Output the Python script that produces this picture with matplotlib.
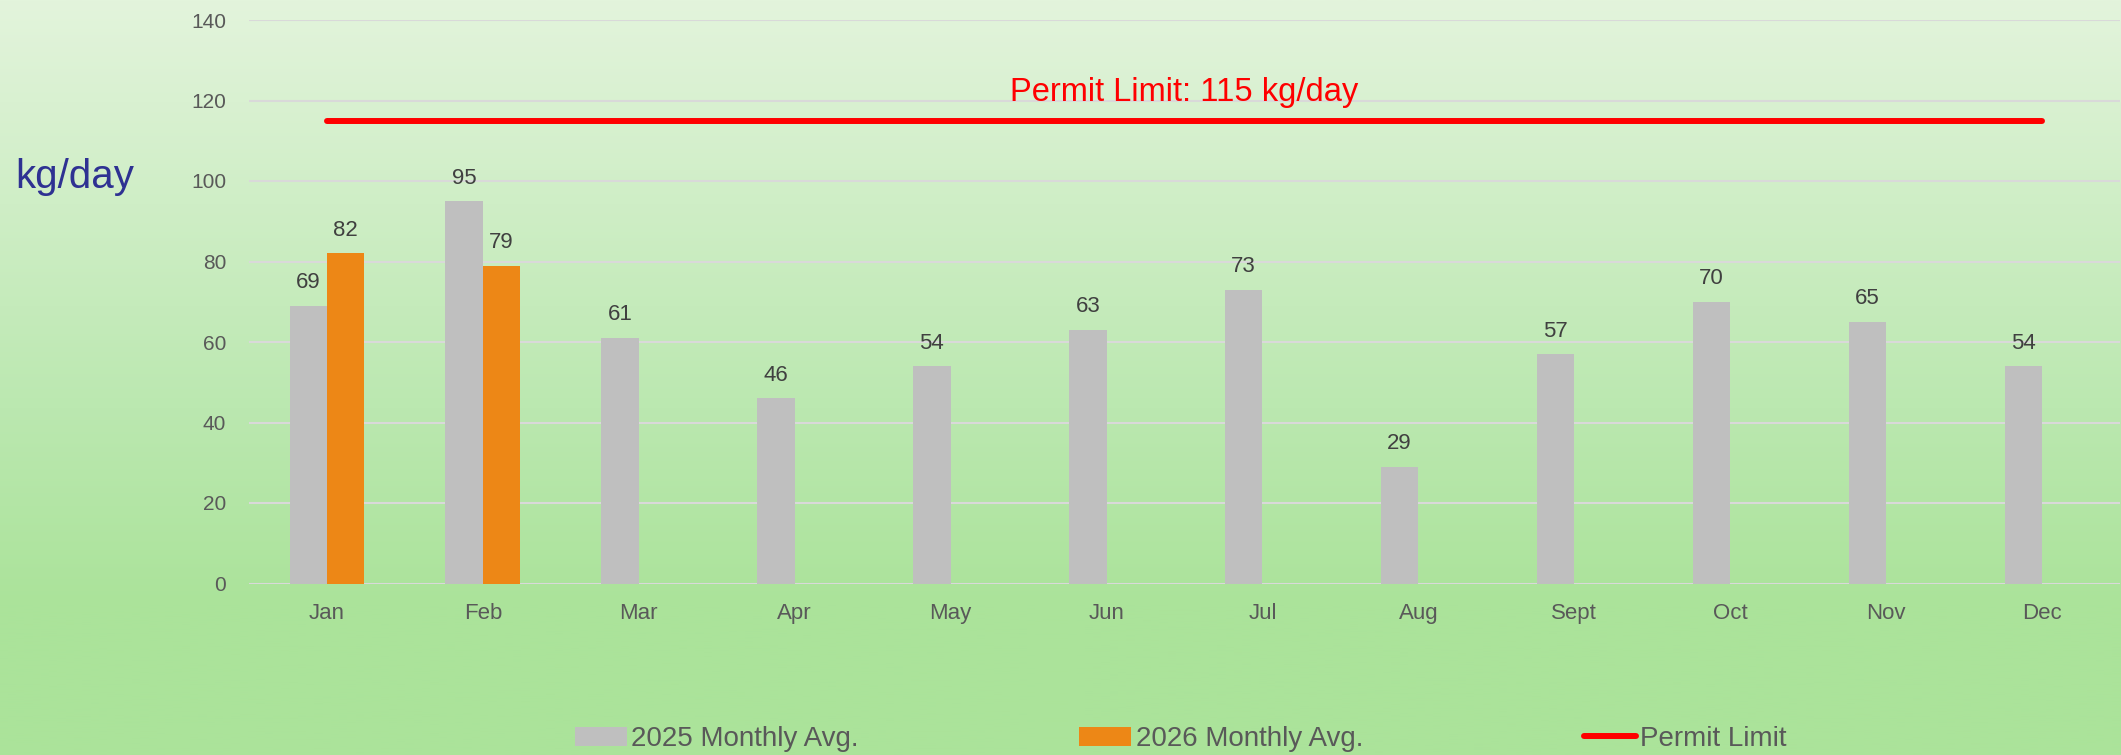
import numpy as np
import matplotlib
matplotlib.use("Agg")
import matplotlib.pyplot as plt
from matplotlib.colors import to_rgb
from matplotlib.patches import Patch
from matplotlib.lines import Line2D

plt.rcParams["font.family"] = ["Liberation Sans", "DejaVu Sans"]

months = ["Jan", "Feb", "Mar", "Apr", "May", "Jun", "Jul", "Aug", "Sept", "Oct", "Nov", "Dec"]
avg_2025 = [69, 95, 61, 46, 54, 63, 73, 29, 57, 70, 65, 54]
avg_2026 = [82, 79]  # Jan, Feb only so far
permit_limit = 115
y_ticks = [0, 20, 40, 60, 80, 100, 120, 140]

GRAY = "#BFBFBF"
ORANGE = "#ED8716"
RED = "#FF0000"
TICK_COLOR = "#595959"
LABEL_COLOR = "#404040"

fig = plt.figure(figsize=(21.21, 7.55), dpi=100)

# background gradient, light at top to saturated green at the bottom
bg = fig.add_axes([0, 0, 1, 1], zorder=0)
stops = [0.0, 0.54, 0.8, 1.0]
cols = np.array([to_rgb(c) for c in ["#E3F4DC", "#BBE8B0", "#ABE39A", "#ABE39A"]])
t = np.linspace(0, 1, 400)
grad = np.stack([np.interp(t, stops, cols[:, i]) for i in range(3)], axis=-1)
bg.imshow(grad[:, None, :], aspect="auto", extent=[0, 1, 0, 1])
bg.axis("off")

ax = fig.add_axes([249 / 2121, 171.5 / 755, 1871 / 2121, 563.5 / 755], zorder=1)
ax.set_facecolor("none")

x = np.arange(len(months))
w = 0.24
b25 = ax.bar(x - w / 2, avg_2025, width=w, color=GRAY, zorder=2)
b26 = ax.bar(x[:len(avg_2026)] + w / 2, avg_2026, width=w, color=ORANGE, zorder=2)
ax.bar_label(b25, padding=9, fontsize=16, color=LABEL_COLOR)
ax.bar_label(b26, padding=9, fontsize=16, color=LABEL_COLOR)

ax.plot([x[0], x[-1]], [permit_limit, permit_limit], color=RED, lw=4.3,
        solid_capstyle="round", zorder=3)
ax.text((x[0] + x[-1]) / 2, 120, f"Permit Limit: {permit_limit} kg/day", color=RED,
        fontsize=23.5, ha="center", va="baseline", zorder=4)

ax.set_xlim(-0.5, len(months) - 0.5)
ax.set_ylim(0, 140)
ax.set_yticks(y_ticks)
ax.set_xticks(x, months)
ax.yaxis.grid(True, color="#D9D9D9", lw=1.5, zorder=0)
ax.set_axisbelow(True)
for s in ax.spines.values():
    s.set_visible(False)
ax.tick_params(axis="y", length=0, pad=16.5, labelsize=15, labelcolor=TICK_COLOR)
ax.tick_params(axis="x", length=0, pad=14, labelsize=16, labelcolor=TICK_COLOR)

fig.text(15 / 2121, 1 - 177 / 755, "kg/day", fontsize=29, color="#2E3192",
         ha="left", va="center")

handles = [
    Patch(facecolor=GRAY, label="2025 Monthly Avg."),
    Patch(facecolor=ORANGE, label="2026 Monthly Avg."),
    Line2D([0], [0], color=RED, lw=4.3, solid_capstyle="round", label="Permit Limit"),
]
fig.legend(handles=handles, ncol=3, frameon=False, fontsize=20, labelcolor=TICK_COLOR,
           loc="center left", bbox_to_anchor=(575 / 2121, 1 - 739 / 755),
           borderpad=0, borderaxespad=0, handlelength=1.87, handleheight=0.7,
           handletextpad=0.15, columnspacing=7.95)

fig.savefig("out.png", dpi=100)
